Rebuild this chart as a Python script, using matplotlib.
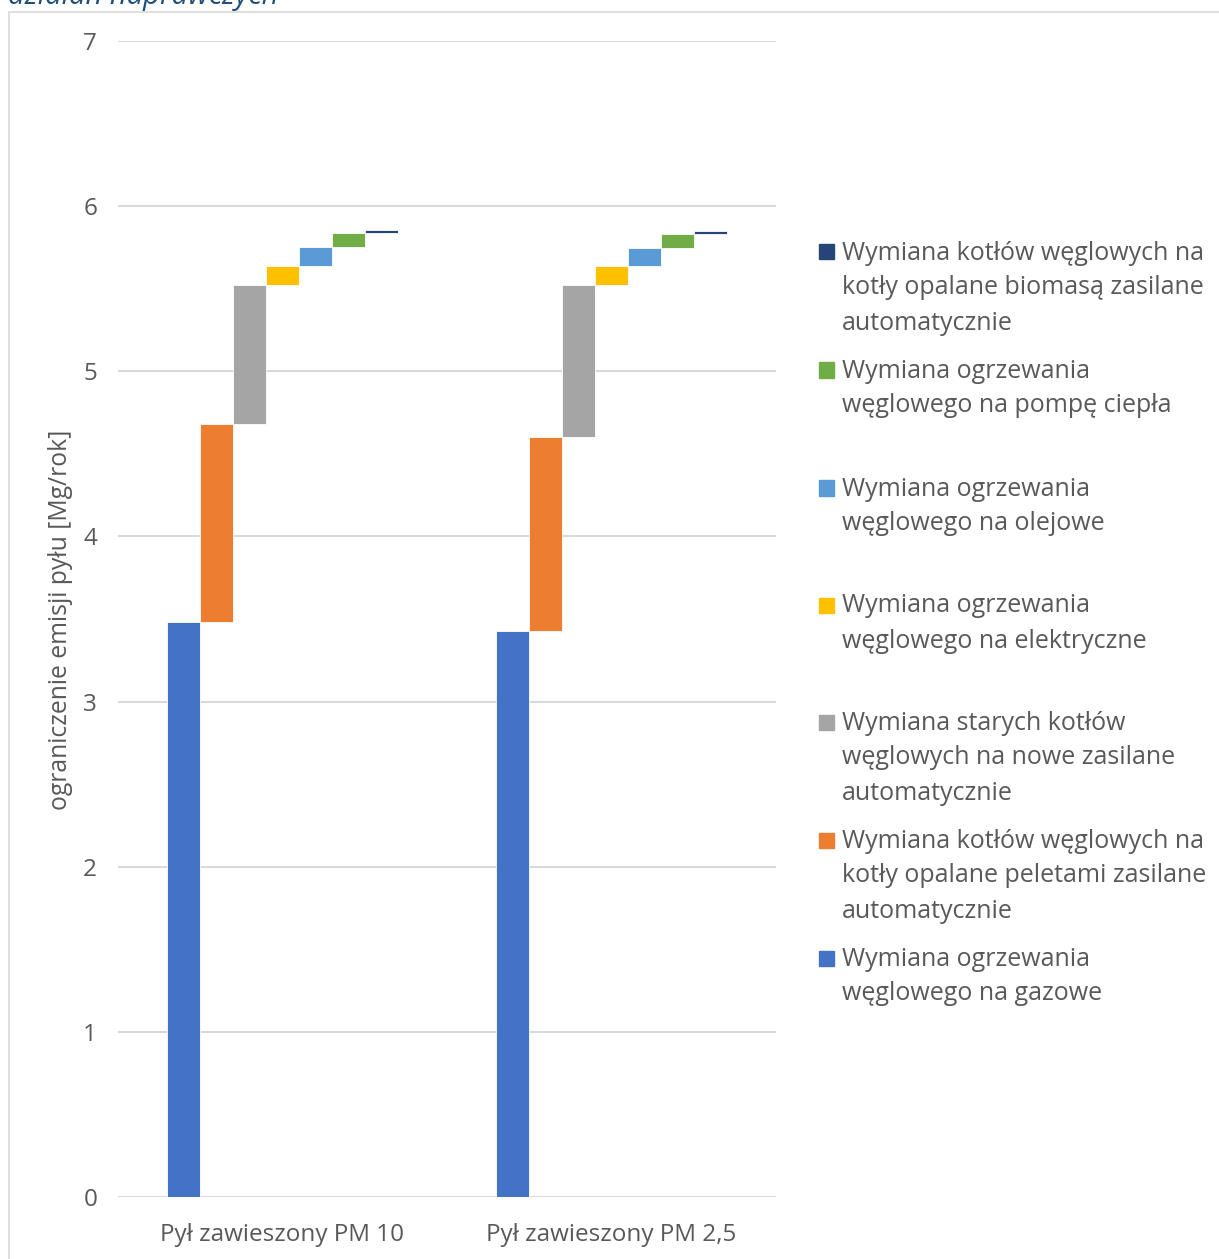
import matplotlib
matplotlib.use("Agg")
import matplotlib.pyplot as plt
from matplotlib.patches import Rectangle
import numpy as np

# ---- data ----
categories = ["Pył zawieszony PM 10", "Pył zawieszony PM 2,5"]

series_names = [
    "Wymiana ogrzewania węglowego na gazowe",
    "Wymiana kotłów węglowych na kotły opalane peletami zasilane automatycznie",
    "Wymiana starych kotłów węglowych na nowe zasilane automatycznie",
    "Wymiana ogrzewania węglowego na elektryczne",
    "Wymiana ogrzewania węglowego na olejowe",
    "Wymiana ogrzewania węglowego na pompę ciepła",
    "Wymiana kotłów węglowych na kotły opalane biomasą zasilane automatycznie",
]
legend_lines = [
    ["Wymiana ogrzewania", "węglowego na gazowe"],
    ["Wymiana kotłów węglowych na", "kotły opalane peletami zasilane", "automatycznie"],
    ["Wymiana starych kotłów", "węglowych na nowe zasilane", "automatycznie"],
    ["Wymiana ogrzewania", "węglowego na elektryczne"],
    ["Wymiana ogrzewania", "węglowego na olejowe"],
    ["Wymiana ogrzewania", "węglowego na pompę ciepła"],
    ["Wymiana kotłów węglowych na", "kotły opalane biomasą zasilane", "automatycznie"],
]

pm10 = [3.48, 1.20, 0.84, 0.12, 0.11, 0.085, 0.02]
pm25 = [3.43, 1.175, 0.915, 0.12, 0.107, 0.085, 0.018]

colors = ["#4472C4", "#ED7D31", "#A5A5A5", "#FFC000", "#5B9BD5", "#70AD47", "#264478"]

y_ticks = [0, 1, 2, 3, 4, 5, 6, 7]
y_label = "ograniczenie emisji pyłu [Mg/rok]"
title_tail = "działań naprawczych"

# ---- layout helpers ----
W, H = 1219, 1259
FONT = "Open Sans"
TXT = "#595959"
GRID = "#D9D9D9"


def fx(px):
    return px / W


def fy(py):
    return 1 - py / H


fig = plt.figure(figsize=(W / 100, H / 100), dpi=100)
fig.patch.set_facecolor("white")

# outer chart-area frame
fig.patches.append(Rectangle((fx(9), fy(1300)), fx(1240) - fx(9), fy(12) - fy(1300),
                             transform=fig.transFigure, fill=False,
                             edgecolor=GRID, linewidth=1.2))

# caption fragment above the frame
fig.text(fx(8), fy(4), title_tail, fontsize=21, style="italic", color="#1F4E79",
         family=FONT, va="baseline", ha="left")

ax = fig.add_axes([fx(118), fy(1197), fx(776) - fx(118), fy(41) - fy(1197)])

values = np.array([pm10, pm25])  # shape (categories, series)
x = np.arange(len(categories))
n = len(series_names)
width = 0.1
bottoms = np.zeros(len(categories))
for i in range(n):
    offs = (i - (n - 1) / 2) * width
    ax.bar(x + offs, values[:, i], width, bottom=bottoms, color=colors[i],
           edgecolor="white", linewidth=0.6, zorder=3)
    bottoms = bottoms + values[:, i]

ax.set_xlim(-0.5, len(categories) - 0.5)
ax.set_ylim(0, 7)
ax.set_yticks(y_ticks)
ax.set_xticks(x)
ax.set_xticklabels(categories)
ax.yaxis.grid(True, color=GRID, linewidth=1.5, zorder=0)
ax.set_axisbelow(True)
for s in ax.spines.values():
    s.set_visible(False)
ax.tick_params(axis="both", length=0, colors=TXT, labelsize=17.5)
ax.tick_params(axis="y", pad=15)
ax.tick_params(axis="x", pad=19)
for lab in ax.get_xticklabels() + ax.get_yticklabels():
    lab.set_family(FONT)

fig.text(fx(61), fy(620), y_label, rotation=90, fontsize=17.8, color=TXT,
         family=FONT, ha="center", va="center")

# legend, drawn top-down in reverse series order
first_line_y = [958, 840, 722, 605, 488, 370, 252]
line_step = 35
for i in range(n):
    yc = first_line_y[i]
    fig.patches.append(Rectangle((fx(819), fy(yc + 7.5)), fx(15), 15 / H,
                                 transform=fig.transFigure, color=colors[i]))
    for k, line in enumerate(legend_lines[i]):
        fig.text(fx(842), fy(yc + k * line_step + 1), line, fontsize=18, color=TXT,
                 family=FONT, ha="left", va="center")

fig.savefig("out.png", dpi=100, facecolor="white")
